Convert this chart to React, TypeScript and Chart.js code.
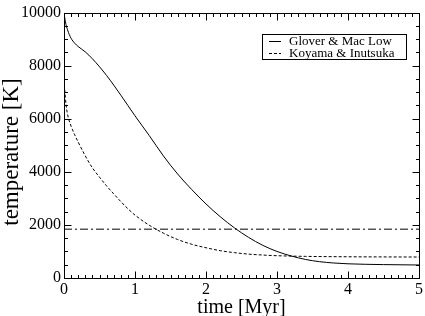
import React, { useEffect, useRef } from "react";
import { Chart, registerables } from "chart.js";

Chart.register(...registerables);

// Glover & Mac Low (solid)
const gloverT = [0, 0.02, 0.05, 0.1, 0.15, 0.2, 0.3, 0.4, 0.5, 0.6, 0.7, 0.8, 0.9, 1.0, 1.2, 1.4, 1.6, 1.8, 2.0, 2.2, 2.4, 2.6, 2.8, 3.0, 3.2, 3.4, 3.6, 3.8, 4.0, 4.5, 5.0];
const gloverK = [10000, 9650, 9350, 9030, 8850, 8720, 8520, 8260, 7960, 7630, 7270, 6890, 6500, 6110, 5370, 4600, 3920, 3330, 2790, 2310, 1890, 1530, 1230, 1000, 830, 700, 615, 565, 535, 505, 490];

// Koyama & Inutsuka (dashed)
const koyamaT = [0.01, 0.03, 0.06, 0.1, 0.15, 0.2, 0.3, 0.4, 0.5, 0.6, 0.7, 0.8, 0.9, 1.0, 1.2, 1.4, 1.6, 1.8, 2.0, 2.2, 2.4, 2.6, 2.8, 3.0, 3.4, 4.0, 5.0];
const koyamaK = [7100, 6500, 6050, 5720, 5400, 5120, 4600, 4150, 3800, 3470, 3170, 2880, 2610, 2370, 1990, 1690, 1450, 1270, 1140, 1030, 955, 900, 865, 840, 815, 800, 790];

// horizontal dash-dot reference level
const refT = [0, 5];
const refK = [1840, 1840];

const seriesLabels = ["Glover & Mac Low", "Koyama & Inutsuka"];
const xTitle = "time [Myr]";
const yTitle = "temperature [K]";

const SERIF = "'Liberation Serif', 'DejaVu Serif', serif";

const toPts = (xs: number[], ys: number[]) => xs.map((x, i) => ({ x, y: ys[i] }));

const frameTicks = {
  id: "frameTicks",
  afterDraw(chart: any) {
    const { ctx, chartArea: a, scales } = chart;
    const xs = scales.x;
    const ys = scales.y;
    ctx.save();
    ctx.strokeStyle = "#000";
    ctx.lineWidth = 1;
    ctx.beginPath();
    const L = Math.round(a.left) + 0.5, R = Math.round(a.right) + 0.5;
    const T = Math.round(a.top) + 0.5, B = Math.round(a.bottom) + 0.5;
    ctx.rect(L, T, R - L, B - T);
    ctx.stroke();
    ctx.beginPath();
    for (let i = 0; i <= 50; i++) {
      const v = i / 10;
      const len = i % 10 === 0 ? 7 : 3.5;
      const px = Math.round(xs.getPixelForValue(v)) + 0.5;
      ctx.moveTo(px, B); ctx.lineTo(px, B - len);
      ctx.moveTo(px, T); ctx.lineTo(px, T + len);
    }
    for (let i = 0; i <= 20; i++) {
      const v = i * 500;
      const len = i % 4 === 0 ? 7 : 3.5;
      const py = Math.round(ys.getPixelForValue(v)) + 0.5;
      ctx.moveTo(L, py); ctx.lineTo(L + len, py);
      ctx.moveTo(R, py); ctx.lineTo(R - len, py);
    }
    ctx.stroke();

    // y-axis title
    ctx.save();
    ctx.translate(12, 152);
    ctx.rotate(-Math.PI / 2);
    ctx.font = `normal 23px ${SERIF}`;
    ctx.textAlign = "center";
    ctx.textBaseline = "middle";
    ctx.fillStyle = "#000";
    ctx.fillText(yTitle, 0, 0);
    ctx.restore();

    // legend box
    const bx = 262.5, by = 34.5, bw = 144, bh = 25;
    ctx.fillStyle = "#fff";
    ctx.fillRect(bx, by, bw, bh);
    ctx.strokeRect(bx, by, bw, bh);
    ctx.font = `13px ${SERIF}`;
    ctx.textBaseline = "middle";
    ctx.fillStyle = "#000";
    const rows = [41, 53];
    chart.data.datasets.slice(0, 2).forEach((ds: any, i: number) => {
      const y = rows[i] + 0.5;
      ctx.beginPath();
      ctx.setLineDash(ds.borderDash || []);
      ctx.moveTo(269, y); ctx.lineTo(281, y);
      ctx.stroke();
      ctx.setLineDash([]);
      ctx.fillText(ds.label, 289, rows[i] + 1);
    });
    ctx.restore();
  },
};

export default function App() {
  const ref = useRef<HTMLCanvasElement>(null);
  useEffect(() => {
    document.body.style.margin = "0";
    const chart = new Chart(ref.current!, {
      type: "line",
      data: {
        datasets: [
          {
            label: seriesLabels[0],
            data: toPts(gloverT, gloverK),
            borderColor: "#000",
            borderWidth: 1,
            pointRadius: 0,
            cubicInterpolationMode: "monotone",
          },
          {
            label: seriesLabels[1],
            data: toPts(koyamaT, koyamaK),
            borderColor: "#000",
            borderWidth: 1,
            borderDash: [3, 2],
            pointRadius: 0,
            cubicInterpolationMode: "monotone",
          },
          {
            label: "reference",
            data: toPts(refT, refK),
            borderColor: "#000",
            borderWidth: 1,
            borderDash: [8, 3, 2, 3],
            pointRadius: 0,
          },
        ],
      },
      options: {
        animation: false,
        responsive: true,
        maintainAspectRatio: false,
        layout: { padding: { left: 0, top: 7, right: 5, bottom: 0 } },
        plugins: { legend: { display: false }, tooltip: { enabled: false } },
        scales: {
          x: {
            type: "linear",
            min: 0,
            max: 5,
            grid: { display: false, drawTicks: false },
            border: { display: false },
            ticks: { stepSize: 1, padding: 2, color: "#000", font: { family: SERIF, size: 16 }, callback: (v: any) => String(v) },
            title: { display: true, text: xTitle, color: "#000", font: { family: SERIF, size: 20, weight: "normal", lineHeight: 1 }, padding: { top: 0, bottom: -2 } },
            afterFit: (s: any) => { s.height = 38; },
          },
          y: {
            type: "linear",
            min: 0,
            max: 10000,
            grid: { display: false, drawTicks: false },
            border: { display: false },
            ticks: { stepSize: 2000, padding: 3, color: "#000", font: { family: SERIF, size: 16 }, callback: (v: any) => String(v) },
            title: { display: false, text: yTitle },
            afterFit: (s: any) => { s.width = 64; },
          },
        },
      },
      plugins: [frameTicks],
    });
    return () => chart.destroy();
  }, []);
  return (
    <div style={{ width: 425, height: 316, position: "relative" }}>
      <canvas ref={ref} />
    </div>
  );
}
